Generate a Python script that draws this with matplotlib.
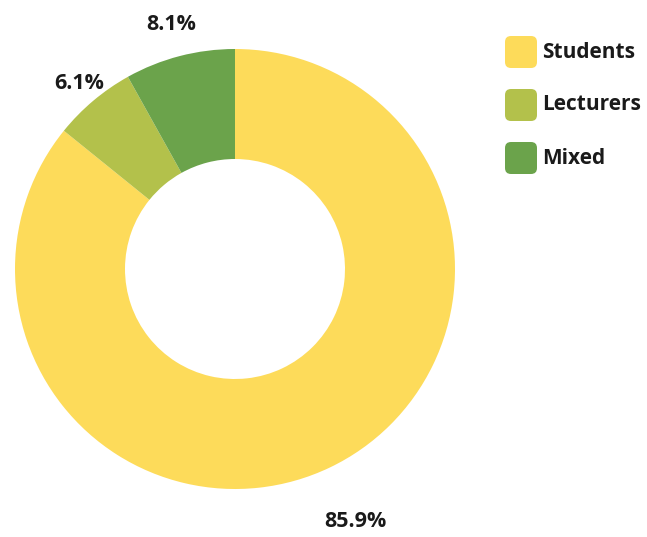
import numpy as np
import matplotlib.pyplot as plt
from matplotlib.patches import FancyBboxPatch

groups = ['Students', 'Lecturers', 'Mixed']
shares = [85.9, 6.1, 8.1]
colors = ['#FDDB5A', '#B3C14B', '#6BA34B']
label_dist = [1.27, 1.10, 1.15]

plt.rcParams['font.family'] = ['Open Sans', 'DejaVu Sans']

fig = plt.figure(figsize=(6.47, 5.37), dpi=100)
ax = fig.add_axes([0, 0, 1, 1])

cx, cy, r = 235, 268, 220
wedges, _ = ax.pie(shares, colors=colors, startangle=90, counterclock=False,
                   radius=r, center=(cx, cy),
                   wedgeprops=dict(width=r * 0.5, linewidth=0))

# percentage labels placed along each wedge's middle angle
for w, val, d in zip(wedges, shares, label_dist):
    mid = np.deg2rad((w.theta1 + w.theta2) / 2)
    ax.text(cx + d * r * np.cos(mid), cy + d * r * np.sin(mid), f'{val}%',
            ha='center', va='center', fontsize=15.5, fontweight='bold', color='#1a1a1a')

# legend with rounded swatches
for i, (g, c) in enumerate(zip(groups, colors)):
    y = 485 - i * 53
    ax.add_patch(FancyBboxPatch((505, y - 16), 32, 32,
                                boxstyle='round,pad=0,rounding_size=6',
                                facecolor=c, edgecolor='none'))
    ax.text(542, y, g, ha='left', va='center', fontsize=15,
            fontweight='bold', color='#1a1a1a')

ax.set_xlim(0, 647)
ax.set_ylim(0, 537)
ax.set_aspect('equal')
ax.axis('off')

fig.savefig('out.png', dpi=100, facecolor='white')
